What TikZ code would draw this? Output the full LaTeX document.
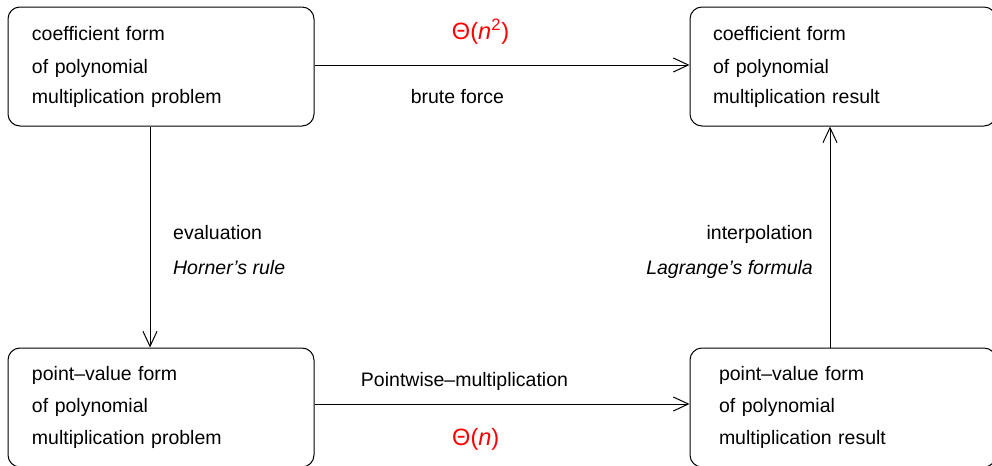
\documentclass[tikz,border=0pt]{standalone}
\usepackage{fontspec}
\setmainfont{Liberation Sans}
\usetikzlibrary{arrows.meta,positioning}

\tikzset{
  formbox/.style={draw, rounded corners=6pt, line width=0.5pt,
    minimum width=153pt, minimum height=59.5pt,
    inner xsep=12pt, text width=129pt, align=left},
  flow/.style={-{Straight Barb[length=7.5pt,width=7pt]}, line width=0.5pt},
  cost/.style={text=red, font=\fontsize{11.8pt}{14pt}\selectfont}
}

\begin{document}
\begin{tikzpicture}[x=0.5pt,y=-0.5pt,font=\fontsize{9.75pt}{16pt}\selectfont]
    \useasboundingbox (0,0) rectangle (992,466);

    %forms
    \node[formbox] (coefprob) at (161,66.5) {coefficient form\\[0.5pt]of polynomial\\[-1pt]multiplication problem};
    \node[formbox, right = 187.5pt of coefprob, inner xsep=11.5pt, text width=130pt] (coefres) {coefficient form\\[0.5pt]of polynomial\\[-1pt]multiplication result};
    \node[formbox, below = 110.5pt of coefprob] (pvprob) {point–value form\\of polynomial\\multiplication problem};
    \node[formbox, below = 110.5pt of coefres, inner xsep=14.5pt, text width=124pt] (pvres) {point–value form\\of polynomial\\multiplication result};

    %arrows
    \draw[flow] ([yshift=0.75pt]coefprob.east) -- node[pos=0.443, yshift=16.5pt, cost] {Θ(\textit{n}\textsuperscript{2})}
        node[pos=0.381, yshift=-16pt] {brute force} ([yshift=0.75pt]coefres.west);
    \draw[flow] ([xshift=-5.5pt]coefprob.south) -- node[pos=0.56, right=8pt, align=left] {evaluation\\[1.5pt]\textit{Horner’s rule}} ([xshift=-5.5pt]pvprob.north);
    \draw[flow] ([yshift=1.75pt]pvprob.east) -- node[pos=0.40, yshift=11.5pt] {Pointwise–multiplication}
        node[pos=0.43, yshift=-17.5pt, cost] {Θ(\textit{n})} ([yshift=1.75pt]pvres.west);
    \draw[flow] ([xshift=-6.5pt]pvres.north) -- node[pos=0.432, left=5pt, align=right] {interpolation\\[1.5pt]\textit{Lagrange’s formula}} ([xshift=-6.5pt]coefres.south);
\end{tikzpicture}
\end{document}
